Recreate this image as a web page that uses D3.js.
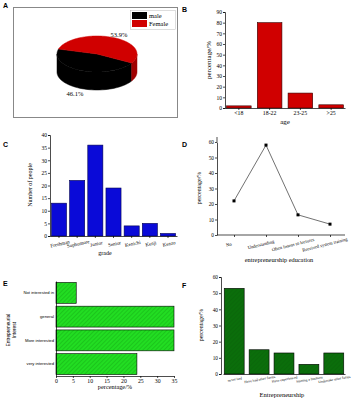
<!DOCTYPE html>
<html><head><meta charset="utf-8">
<script src="https://cdn.jsdelivr.net/npm/d3@7"></script>
<style>body{margin:0;background:#fff}svg{display:block}</style>
</head><body>
<script>
// ---- data ----
const genderLabels = ["male", "Female"];
const genderValues = [46.1, 53.9];
const ageCats = ["<18", "18-22", "23-25", ">25"];
const ageValues = [2, 80, 14, 3];
const ageTicks = [0,10,20,30,40,50,60,70,80,90];
const gradeCats = ["Freshman","Sophomore","Junior","Senior","Kenichi","Kenji","Kenzo"];
const gradeValues = [13, 22, 36, 19, 4, 5, 1];
const gradeTicks = [0,5,10,15,20,25,30,35,40];
const eduCats = ["No","Understanding","Often listens to  lectures","Received system training"];
const eduValues = [22, 58, 13, 7];
const eduTicks = [0,10,20,30,40,50,60];
const interestCats = ["Not interested in","general","More interested","very interested"];
const interestValues = [6, 35, 35, 24];
const interestTicks = [0,5,10,15,20,25,30,35];
const entCats = ["never had","Have had other forms","Have experienced","Starting a business","Undertake other forms"];
const entValues = [53, 15, 13, 6, 13];
const entTicks = [0,10,20,30,40,50,60];

const W = 356, H = 400;
const svg = d3.select("body").append("svg").attr("width", W).attr("height", H);
const serif = "Liberation Serif, Times New Roman, serif";
const sans = "Liberation Sans, Arial, sans-serif";

const defs = svg.append("defs");
const hatch = defs.append("pattern").attr("id","hatchE").attr("patternUnits","userSpaceOnUse")
  .attr("width",3).attr("height",3).attr("patternTransform","rotate(45)");
hatch.append("rect").attr("width",3).attr("height",3).attr("fill","#22dd22");
hatch.append("line").attr("x1",0).attr("y1",0).attr("x2",0).attr("y2",3).attr("stroke","#14a014").attr("stroke-width",0.8);
const hatchF = defs.append("pattern").attr("id","hatchF").attr("patternUnits","userSpaceOnUse")
  .attr("width",3).attr("height",3).attr("patternTransform","rotate(45)");
hatchF.append("rect").attr("width",3).attr("height",3).attr("fill","#0b6e0b");
hatchF.append("line").attr("x1",0).attr("y1",0).attr("x2",0).attr("y2",3).attr("stroke","#0a600a").attr("stroke-width",0.8);

function panelLetter(t, x, y){
  svg.append("text").attr("x",x).attr("y",y).attr("font-family",sans).attr("font-weight","bold")
    .attr("font-size",7).text(t);
}
function styleAxis(g, fs, fam){
  g.selectAll("path,line").attr("stroke","#000").attr("stroke-width",0.7);
  g.selectAll("text").attr("font-family",fam||serif).attr("font-size",fs).attr("fill","#000");
}

// ---- A: 3D pie ----
panelLetter("A", 3, 8);
svg.append("rect").attr("x",13.5).attr("y",7.5).attr("width",164).attr("height",110)
  .attr("fill","none").attr("stroke","#888").attr("stroke-width",1);
(function(){
  const cx = 97, cy = 54, rx = 40, ry = 18, depth = 18;
  const pie = d3.pie().sort(null).startAngle(30*Math.PI/180).endAngle((30+360)*Math.PI/180);
  const arcs = pie(genderValues);
  const topCols = ["#000000", "#d00000"];
  const sideCols = ["#000000", "#a00000"];
  const pt = (a, dy) => [cx + rx*Math.cos(a), cy + ry*Math.sin(a) + (dy||0)];
  const g = svg.append("g");
  arcs.forEach((d,i) => {
    const segs = [];
    for (let k=-1;k<=2;k++){
      const lo = Math.max(d.startAngle, k*2*Math.PI), hi = Math.min(d.endAngle, k*2*Math.PI+Math.PI);
      if (hi > lo) segs.push([lo,hi]);
    }
    segs.forEach(([lo,hi]) => {
      const n = 40, top = [], bot = [];
      for (let j=0;j<=n;j++){ const a = lo + (hi-lo)*j/n; top.push(pt(a)); bot.push(pt(a, depth)); }
      const poly = top.concat(bot.reverse());
      g.append("path").attr("d", d3.line()(poly) + "Z").attr("fill", sideCols[i]).attr("stroke", sideCols[i]).attr("stroke-width",0.5);
    });
  });
  arcs.forEach((d,i) => {
    const n = 80, p = [[cx,cy]];
    for (let j=0;j<=n;j++){ const a = d.startAngle + (d.endAngle-d.startAngle)*j/n; p.push(pt(a)); }
    g.append("path").attr("d", d3.line()(p)+"Z").attr("fill", topCols[i]).attr("stroke", topCols[i]).attr("stroke-width",0.5);
  });
  svg.append("text").attr("x",119).attr("y",37).attr("text-anchor","middle").attr("font-family",serif)
    .attr("font-size",6.5).text(d3.format(".1f")(genderValues[1])+"%");
  svg.append("text").attr("x",75).attr("y",96).attr("text-anchor","middle").attr("font-family",serif)
    .attr("font-size",6.5).text(d3.format(".1f")(genderValues[0])+"%");
  const lg = svg.append("g");
  lg.append("rect").attr("x",130.5).attr("y",10.5).attr("width",45).attr("height",19).attr("fill","#fff").attr("stroke","#bbb").attr("stroke-width",0.5);
  genderLabels.forEach((l,i) => {
    lg.append("rect").attr("x",132).attr("y",12+i*8).attr("width",15).attr("height",7).attr("fill",topCols[i]);
    lg.append("text").attr("x",149).attr("y",17.5+i*8).attr("font-family",serif).attr("font-size",6.5).text(l);
  });
})();

// ---- B: age ----
panelLetter("B", 182, 12);
(function(){
  const x0 = 225, x1 = 345, y0 = 108, y1 = 12;
  const x = d3.scaleBand().domain(ageCats).range([x0, x1]).paddingInner(0.2).paddingOuter(0.05);
  const y = d3.scaleLinear().domain([0,90]).range([y0, y1]);
  svg.append("g").selectAll("rect").data(ageValues).join("rect")
    .attr("x",(d,i)=>x(ageCats[i])).attr("width",x.bandwidth())
    .attr("y",d=>y(d)).attr("height",d=>y0-y(d))
    .attr("fill","#d00000").attr("stroke","#300").attr("stroke-width",0.6);
  const ya = svg.append("g").attr("transform",`translate(${x0},0)`).call(d3.axisLeft(y).tickValues(ageTicks).tickSize(2).tickPadding(1));
  styleAxis(ya, 5.5);
  const xa = svg.append("g").attr("transform",`translate(0,${y0})`).call(d3.axisBottom(x).tickSize(2).tickPadding(1).tickSizeOuter(0));
  styleAxis(xa, 5.8);
  svg.append("text").attr("x",285).attr("y",124).attr("text-anchor","middle").attr("font-family",serif).attr("font-size",7).text("age");
  svg.append("text").attr("transform","translate(211,60) rotate(-90)").attr("text-anchor","middle").attr("font-family",serif).attr("font-size",7).text("percentage/%");
})();

// ---- C: grade ----
panelLetter("C", 3, 147);
(function(){
  const x0 = 50, x1 = 177, y0 = 236, y1 = 135;
  const x = d3.scaleBand().domain(gradeCats).range([x0, x1]).paddingInner(0.17).paddingOuter(0.08);
  const y = d3.scaleLinear().domain([0,40]).range([y0, y1]);
  svg.append("g").selectAll("rect").data(gradeValues).join("rect")
    .attr("x",(d,i)=>x(gradeCats[i])).attr("width",x.bandwidth())
    .attr("y",d=>y(d)).attr("height",d=>y0-y(d))
    .attr("fill","#0a0ad8").attr("stroke","#000050").attr("stroke-width",0.6);
  const ya = svg.append("g").attr("transform",`translate(${x0},0)`).call(d3.axisLeft(y).tickValues(gradeTicks).tickSize(2).tickPadding(1));
  styleAxis(ya, 5.5);
  const xa = svg.append("g").attr("transform",`translate(0,${y0})`).call(d3.axisBottom(x).tickSize(2).tickPadding(1).tickSizeOuter(0));
  styleAxis(xa, 5);
  xa.selectAll(".tick text").attr("text-anchor","middle").attr("transform","translate(0,3) rotate(-12)");
  svg.append("text").attr("x",105).attr("y",255).attr("text-anchor","middle").attr("font-family",serif).attr("font-size",6).text("grade");
  svg.append("text").attr("transform","translate(32,185) rotate(-90)").attr("text-anchor","middle").attr("font-family",serif).attr("font-size",6).text("Number of people");
})();

// ---- D: entrepreneurship education ----
panelLetter("D", 182, 147);
(function(){
  const x0 = 217, x1 = 345, y0 = 235, y1 = 142;
  const x = d3.scalePoint().domain(eduCats).range([234, 330]);
  const y = d3.scaleLinear().domain([0,60]).range([y0, y1]);
  const ya = svg.append("g").attr("transform",`translate(${x0},0)`).call(d3.axisLeft(y).tickValues(eduTicks).tickSize(2).tickPadding(1).tickSizeOuter(0));
  styleAxis(ya, 5.3);
  svg.append("line").attr("x1",x0).attr("x2",x0).attr("y1",137).attr("y2",y1).attr("stroke","#000").attr("stroke-width",0.7);
  svg.append("line").attr("x1",x0).attr("x2",x1).attr("y1",y0).attr("y2",y0).attr("stroke","#000").attr("stroke-width",0.7);
  const xa = svg.append("g").attr("transform",`translate(0,${y0})`).call(d3.axisBottom(x).tickSize(2).tickPadding(2));
  xa.select(".domain").remove();
  styleAxis(xa, 4.6);
  xa.selectAll(".tick text").attr("text-anchor","middle").attr("transform","translate(-7,4) rotate(-14)");
  const line = d3.line().x((d,i)=>x(eduCats[i])).y(d=>y(d));
  svg.append("path").datum(eduValues).attr("d",line).attr("fill","none").attr("stroke","#333").attr("stroke-width",0.7);
  svg.append("g").selectAll("rect").data(eduValues).join("rect")
    .attr("x",(d,i)=>x(eduCats[i])-1.5).attr("y",d=>y(d)-1.5).attr("width",3).attr("height",3).attr("fill","#000");
  svg.append("text").attr("x",279).attr("y",262).attr("text-anchor","middle").attr("font-family",serif).attr("font-size",6.3).text("entrepreneurship education");
  svg.append("text").attr("transform","translate(201,188) rotate(-90)").attr("text-anchor","middle").attr("font-family",serif).attr("font-size",6).text("percentage/%");
})();

// ---- E: interest ----
panelLetter("E", 3, 286);
(function(){
  const x0 = 56, x1 = 174, y0 = 376, y1 = 281;
  const x = d3.scaleLinear().domain([0,35]).range([x0, x1]);
  const y = d3.scaleBand().domain(interestCats).range([y1, y0]).paddingInner(0.12).paddingOuter(0.06);
  svg.append("g").selectAll("rect").data(interestValues).join("rect")
    .attr("x",x0).attr("y",(d,i)=>y(interestCats[i])).attr("height",y.bandwidth())
    .attr("width",d=>x(d)-x0).attr("fill","url(#hatchE)").attr("stroke","#000").attr("stroke-width",0.6);
  const ya = svg.append("g").attr("transform",`translate(${x0},0)`).call(d3.axisLeft(y).tickSize(0).tickPadding(2).tickSizeOuter(0));
  styleAxis(ya, 4.2, sans);
  const xa = svg.append("g").attr("transform",`translate(0,${y0})`).call(d3.axisBottom(x).tickValues(interestTicks).tickSize(2).tickPadding(1).tickSizeOuter(0));
  styleAxis(xa, 5.8);
  svg.append("text").attr("x",115).attr("y",389).attr("text-anchor","middle").attr("font-family",serif).attr("font-size",6.3).text("percentage/%");
  const yl = svg.append("text").attr("transform","translate(10,330) rotate(-90)").attr("text-anchor","middle").attr("font-family",sans).attr("font-size",4.8);
  yl.append("tspan").attr("x",0).attr("dy",0).text("Entrepreneurial");
  yl.append("tspan").attr("x",0).attr("dy",6).text("Interest");
})();

// ---- F: entrepreneurship ----
panelLetter("F", 182, 288);
(function(){
  const x0 = 221, x1 = 345, y0 = 374, y1 = 277;
  const x = d3.scaleBand().domain(entCats).range([x0+2, x1]).paddingInner(0.2).paddingOuter(0.05);
  const y = d3.scaleLinear().domain([0,60]).range([y0, y1]);
  svg.append("g").selectAll("rect").data(entValues).join("rect")
    .attr("x",(d,i)=>x(entCats[i])).attr("width",x.bandwidth())
    .attr("y",d=>y(d)).attr("height",d=>y0-y(d))
    .attr("fill","url(#hatchF)").attr("stroke","#000").attr("stroke-width",0.6);
  const ya = svg.append("g").attr("transform",`translate(${x0},0)`).call(d3.axisLeft(y).tickValues(entTicks).tickSize(2).tickPadding(1));
  styleAxis(ya, 5.3);
  const xa = svg.append("g").attr("transform",`translate(0,${y0})`).call(d3.axisBottom(x).tickSize(0).tickPadding(2).tickSizeOuter(0));
  styleAxis(xa, 3.6);
  xa.selectAll(".tick text").attr("text-anchor","middle").attr("transform","translate(0,2) rotate(-10)");
  svg.append("text").attr("x",282).attr("y",397).attr("text-anchor","middle").attr("font-family",serif).attr("font-size",6.5).text("Entrepreneurship");
  svg.append("text").attr("transform","translate(203,325) rotate(-90)").attr("text-anchor","middle").attr("font-family",serif).attr("font-size",6).text("percentage/%");
})();
</script>
</body></html>
